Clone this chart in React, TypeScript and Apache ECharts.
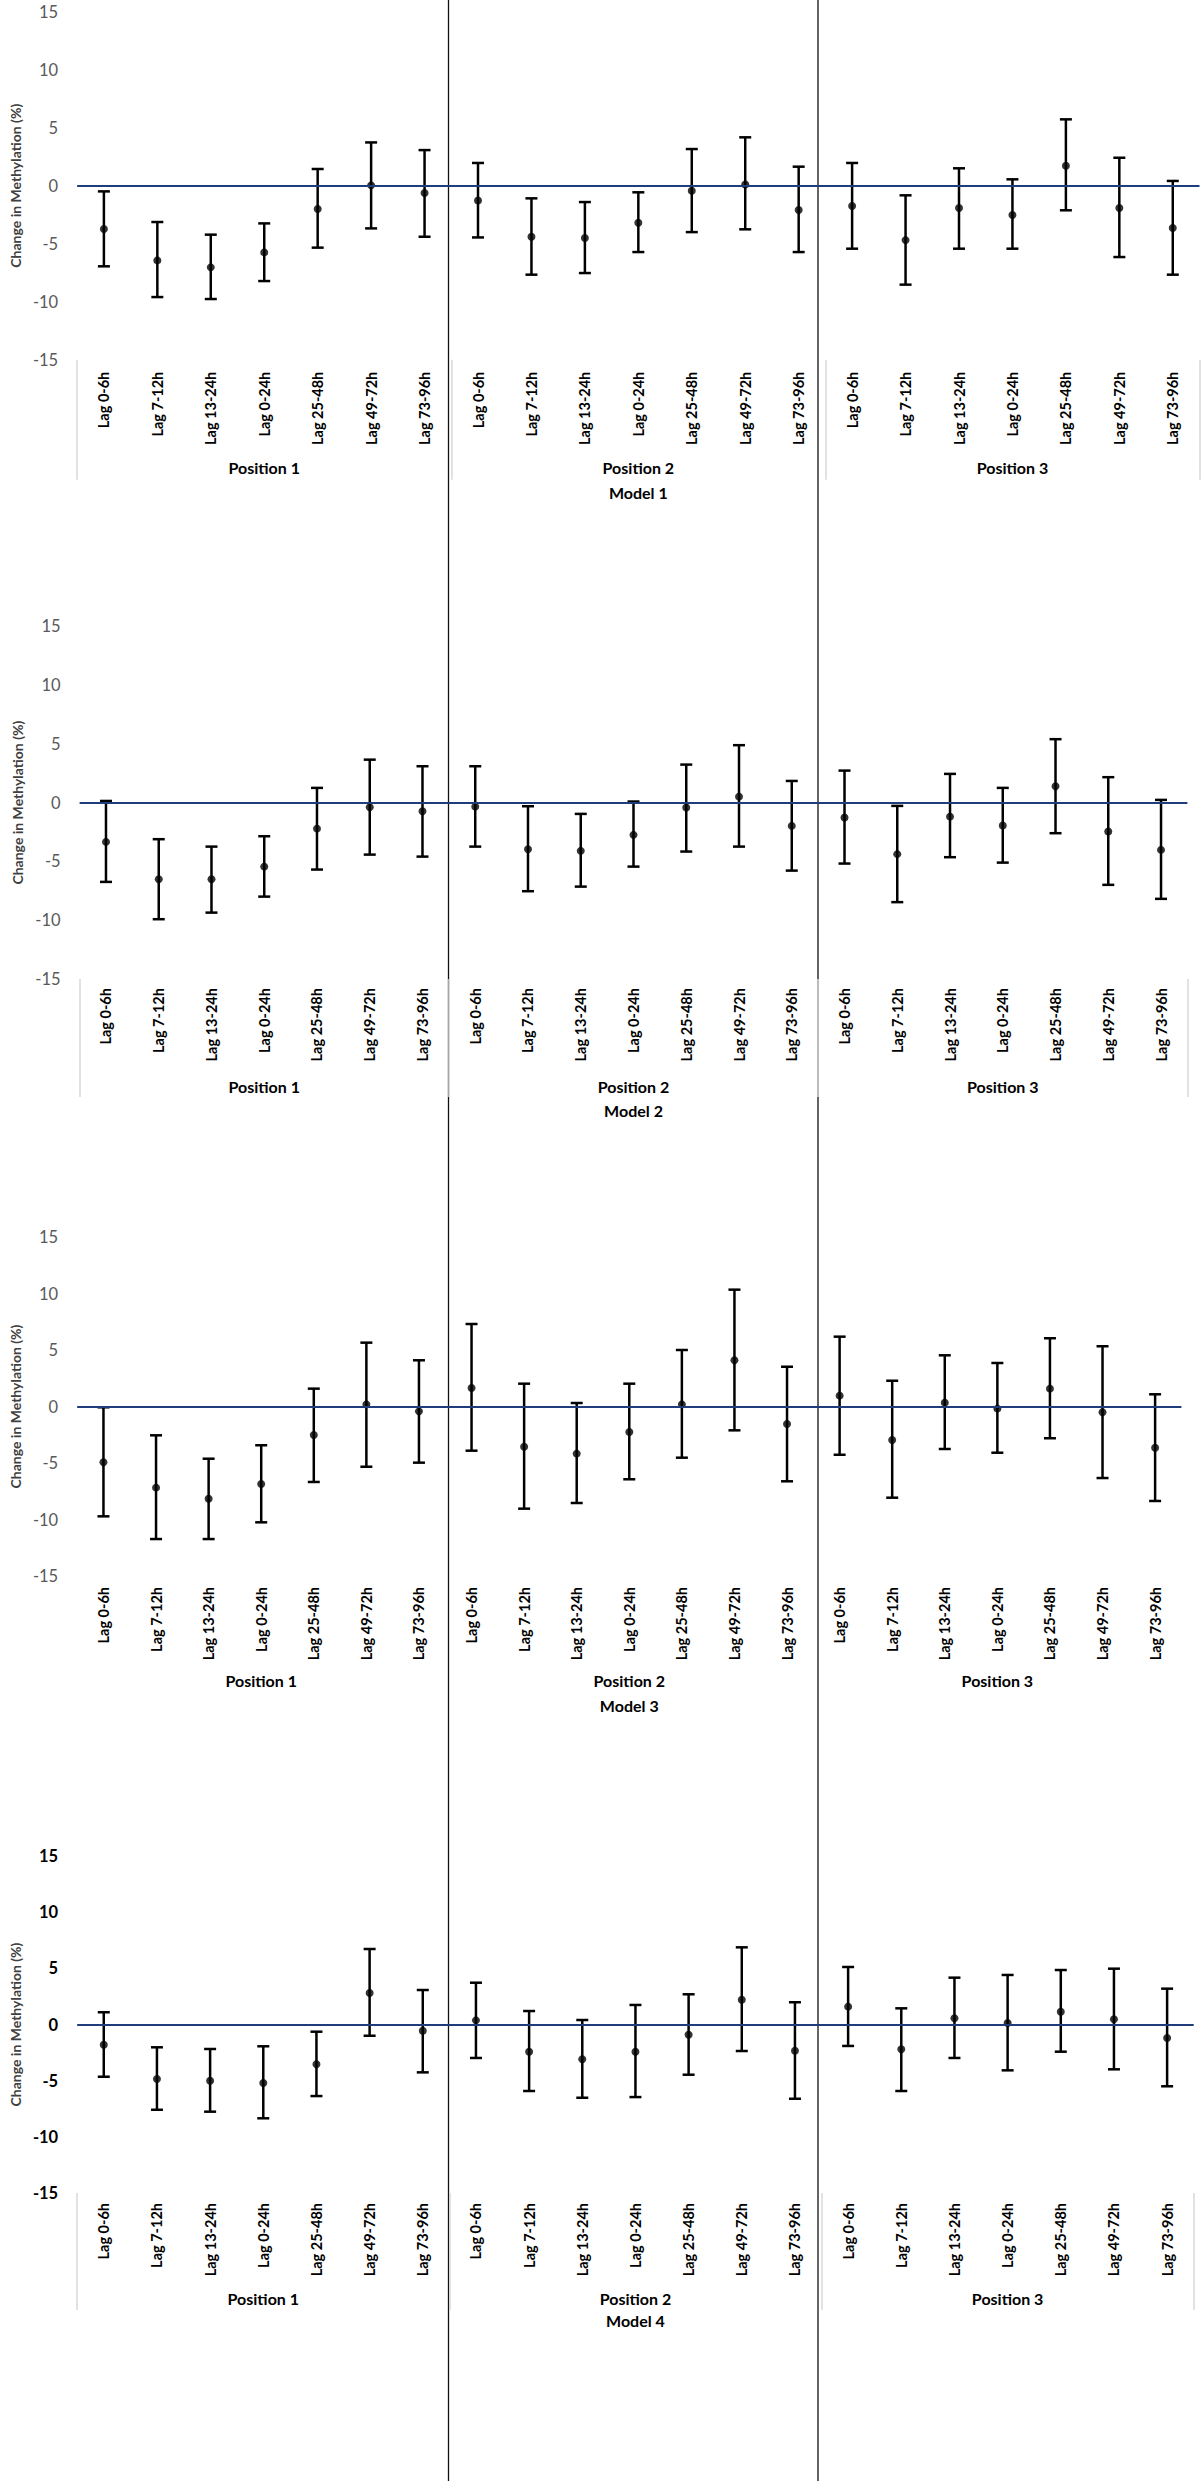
import React, { useEffect, useRef } from "react";
import * as echarts from "echarts";

const lags = ["Lag 0-6h", "Lag 7-12h", "Lag 13-24h", "Lag 0-24h", "Lag 25-48h", "Lag 49-72h", "Lag 73-96h"];
const positions = ["Position 1", "Position 2", "Position 3"];
const models = ["Model 1", "Model 2", "Model 3", "Model 4"];
const yMin = -15;
const yMax = 15;
const yStep = 5;

// Model 1
const m1Est = [-3.73, -6.44, -7.04, -5.75, -2.01, 0.03, -0.63, -1.27, -4.4, -4.51, -3.19, -0.43, 0.11, -2.1, -1.75, -4.69, -1.92, -2.53, 1.72, -1.92, -3.64];
const m1Low = [-6.95, -9.6, -9.77, -8.22, -5.34, -3.68, -4.4, -4.46, -7.67, -7.53, -5.72, -4.0, -3.76, -5.72, -5.43, -8.53, -5.43, -5.43, -2.12, -6.15, -7.67];
const m1High = [-0.49, -3.13, -4.22, -3.25, 1.44, 3.73, 3.07, 1.96, -1.09, -1.41, -0.57, 3.16, 4.17, 1.64, 1.96, -0.83, 1.5, 0.55, 5.72, 2.41, 0.41];
// Model 2
const m2Est = [-3.34, -6.51, -6.51, -5.44, -2.21, -0.39, -0.73, -0.34, -3.96, -4.1, -2.74, -0.42, 0.51, -1.98, -1.27, -4.38, -1.19, -1.95, 1.39, -2.46, -4.02];
const m2Low = [-6.74, -9.91, -9.35, -7.99, -5.69, -4.42, -4.59, -3.74, -7.53, -7.14, -5.44, -4.16, -3.74, -5.78, -5.18, -8.46, -4.64, -5.1, -2.6, -6.99, -8.18];
const m2High = [0.14, -3.11, -3.74, -2.86, 1.25, 3.65, 3.09, 3.09, -0.31, -0.96, 0.09, 3.23, 4.88, 1.84, 2.72, -0.28, 2.44, 1.25, 5.39, 2.16, 0.23];
// Model 3
const m3Est = [-4.94, -7.18, -8.16, -6.86, -2.52, 0.19, -0.43, 1.64, -3.56, -4.17, -2.26, 0.19, 4.09, -1.55, 0.96, -2.96, 0.34, -0.19, 1.58, -0.51, -3.65];
const m3Low = [-9.72, -11.73, -11.73, -10.25, -6.68, -5.33, -4.97, -3.91, -9.04, -8.54, -6.44, -4.53, -2.11, -6.62, -4.27, -8.07, -3.76, -4.09, -2.81, -6.33, -8.36];
const m3High = [-0.07, -2.55, -4.62, -3.43, 1.58, 5.65, 4.09, 7.3, 2.02, 0.31, 2.02, 5.0, 10.34, 3.52, 6.18, 2.28, 4.53, 3.85, 6.04, 5.33, 1.08];
// Model 4
const m4Est = [-1.8, -4.85, -5.0, -5.21, -3.54, 2.8, -0.55, 0.37, -2.42, -3.1, -2.42, -0.91, 2.21, -2.33, 1.59, -2.21, 0.55, 0.13, 1.14, 0.46, -1.2];
const m4Low = [-4.65, -7.59, -7.76, -8.35, -6.37, -1.0, -4.26, -2.98, -5.92, -6.52, -6.46, -4.47, -2.36, -6.61, -1.91, -5.92, -2.98, -4.08, -2.42, -3.99, -5.5];
const m4High = [1.09, -2.03, -2.18, -1.94, -0.64, 6.72, 3.07, 3.72, 1.2, 0.4, 1.74, 2.69, 6.87, 1.98, 5.12, 1.44, 4.17, 4.41, 4.85, 4.97, 3.19];

const estimates = [m1Est, m2Est, m3Est, m4Est];
const lows = [m1Low, m2Low, m3Low, m4Low];
const highs = [m1High, m2High, m3High, m4High];

// layout of each panel (pixels)
const panels = [
  { left: 76, top: 11.7, width: 1123.5, height: 348, lagMargin: 12, posMargin: 100, modelGap: 125, tickLen: 120, ticks: true, boldY: false },
  { left: 79.6, top: 626.1, width: 1107.8, height: 353, lagMargin: 9, posMargin: 99, modelGap: 123, tickLen: 118, ticks: true, boldY: false },
  { left: 72.6, top: 1237, width: 1108.8, height: 339, lagMargin: 11, posMargin: 96, modelGap: 121, tickLen: 116, ticks: false, boldY: false },
  { left: 72.3, top: 1856, width: 1121.4, height: 337, lagMargin: 10, posMargin: 97, modelGap: 119, tickLen: 117, ticks: true, boldY: true },
];

const FONT = "Lato";

export default function App() {
  const ref = useRef<HTMLDivElement>(null);

  useEffect(() => {
    if (!ref.current) return;
    const chart = echarts.init(ref.current, undefined, { renderer: "svg" });
    const allLags: string[] = [];
    positions.forEach(() => lags.forEach((l) => allLags.push(l)));

    const grid: any[] = [];
    const xAxis: any[] = [];
    const yAxis: any[] = [];
    const series: any[] = [];

    panels.forEach((p, g) => {
      grid.push({ left: p.left, top: p.top, width: p.width, height: p.height, containLabel: false });
      xAxis.push({
        type: "category",
        gridIndex: g,
        data: allLags,
        position: "bottom",
        axisLine: { show: false },
        axisTick: { show: false },
        splitLine: { show: false },
        axisLabel: {
          rotate: 90,
          interval: 0,
          margin: p.lagMargin,
          fontFamily: FONT,
          fontWeight: "bold",
          fontSize: 14.5,
          color: "#000",
        },
      });
      xAxis.push({
        type: "category",
        gridIndex: g,
        data: positions,
        position: "bottom",
        axisLine: { show: false },
        axisTick: { show: p.ticks, length: p.tickLen, lineStyle: { color: "#d9d9d9", width: 1.5 } },
        splitLine: { show: false },
        axisLabel: { margin: p.posMargin, fontFamily: FONT, fontWeight: "bold", fontSize: 16, color: "#000" },
        name: models[g],
        nameLocation: "middle",
        nameGap: p.modelGap,
        nameTextStyle: { fontFamily: FONT, fontWeight: "bold", fontSize: 16, color: "#000" },
      });
      yAxis.push({
        type: "value",
        gridIndex: g,
        min: yMin,
        max: yMax,
        interval: yStep,
        axisLine: { show: false },
        axisTick: { show: false },
        splitLine: { show: false },
        axisLabel: {
          margin: 19,
          fontFamily: FONT,
          fontSize: 16.5,
          fontWeight: p.boldY ? "bold" : "normal",
          color: p.boldY ? "#000" : "#595959",
        },
        name: "Change in Methylation (%)",
        nameLocation: "middle",
        nameGap: 54,
        nameTextStyle: { fontFamily: FONT, fontWeight: "bold", fontSize: 14, color: "#404040" },
      });

      const est = estimates[g];
      const lo = lows[g];
      const hi = highs[g];

      series.push({
        type: "line",
        xAxisIndex: 2 * g,
        yAxisIndex: g,
        data: est.map((v, i) => [i, v]),
        showSymbol: false,
        lineStyle: { opacity: 0 },
        silent: true,
        z: 1,
        markLine: {
          silent: true,
          symbol: "none",
          label: { show: false },
          lineStyle: { color: "#1F3D7A", width: 2, type: "solid" },
          data: [{ yAxis: 0 }],
        },
      });
      series.push({
        type: "custom",
        xAxisIndex: 2 * g,
        yAxisIndex: g,
        z: 2,
        data: est.map((_, i) => [i, lo[i], hi[i]]),
        encode: { x: 0, y: [1, 2] },
        renderItem: (params: any, api: any) => {
          const x = api.value(0);
          const top = api.coord([x, api.value(2)]);
          const bot = api.coord([x, api.value(1)]);
          const cap = 6;
          const style = { stroke: "#000", lineWidth: 2.5 };
          return {
            type: "group",
            children: [
              { type: "line", shape: { x1: top[0], y1: top[1], x2: bot[0], y2: bot[1] }, style },
              { type: "line", shape: { x1: top[0] - cap, y1: top[1], x2: top[0] + cap, y2: top[1] }, style },
              { type: "line", shape: { x1: bot[0] - cap, y1: bot[1], x2: bot[0] + cap, y2: bot[1] }, style },
            ],
          };
        },
      });
      series.push({
        type: "scatter",
        xAxisIndex: 2 * g,
        yAxisIndex: g,
        z: 3,
        symbol: "circle",
        symbolSize: 8,
        itemStyle: { color: "#000" },
        data: est.map((v, i) => [i, v]),
      });
    });

    chart.setOption({
      animation: false,
      backgroundColor: "#fff",
      textStyle: { fontFamily: FONT },
      grid,
      xAxis,
      yAxis,
      series,
      graphic: [
        { type: "line", shape: { x1: 448.5, y1: 0, x2: 448.5, y2: 2481 }, style: { stroke: "#111", lineWidth: 1.3 }, z: 0 },
        { type: "line", shape: { x1: 818, y1: 0, x2: 818, y2: 2481 }, style: { stroke: "#111", lineWidth: 1.3 }, z: 0 },
      ],
    });
    return () => chart.dispose();
  }, []);

  return <div ref={ref} style={{ position: "absolute", left: 0, top: 0, width: 1201, height: 2481 }} />;
}
